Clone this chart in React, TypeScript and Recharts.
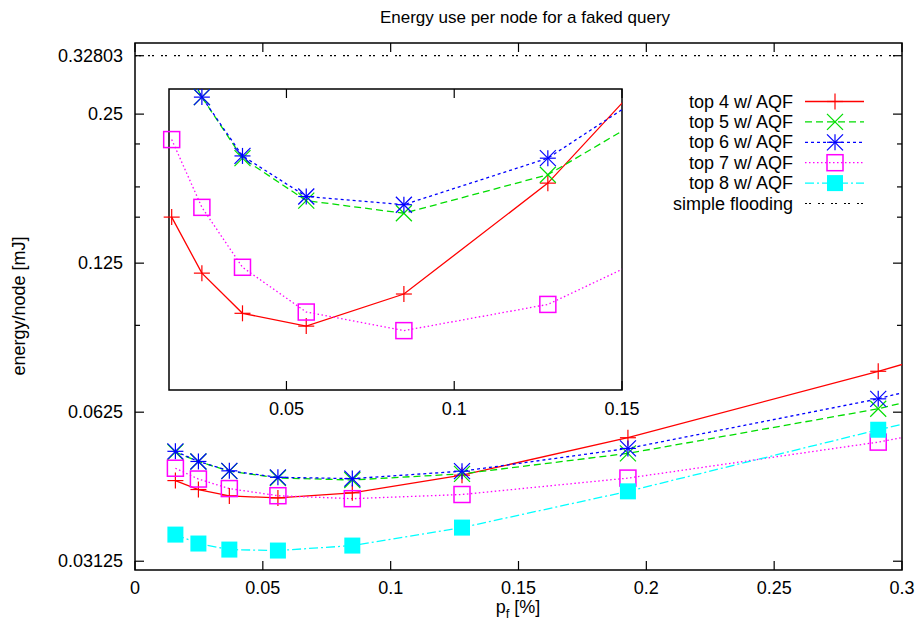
import React from 'react';
import { LineChart, Line, XAxis, YAxis, ReferenceLine, ReferenceArea } from 'recharts';

// p_f values (last one lies past the right edge, only its segment shows)
const pf = [0.0158, 0.0248, 0.0369, 0.0559, 0.085, 0.1279, 0.1928, 0.2907, 0.436];
const top4 = [0.04547, 0.04362, 0.04234, 0.04194, 0.04295, 0.04663, 0.0555, 0.0756, 0.1238];
const top5 = [0.0519, 0.0497, 0.0475, 0.04603, 0.0456, 0.04692, 0.0516, 0.0635, 0.0967];
const top6 = [0.0521, 0.0497, 0.04758, 0.04617, 0.04589, 0.0475, 0.0528, 0.0665, 0.1035];
const top7 = [0.04816, 0.0458, 0.04381, 0.04238, 0.0418, 0.04262, 0.046, 0.05438, 0.0757];
const top8 = [0.03537, 0.03393, 0.03299, 0.03284, 0.03361, 0.03654, 0.04325, 0.0576, 0.0851];
const flooding = 0.32803;

const mainXTicks = [0, 0.05, 0.1, 0.15, 0.2, 0.25, 0.3];
const mainYTicks = [0.03125, 0.0625, 0.125, 0.25, 0.32803];
const mainYMinor = [0.2176, 0.1782, 0.1548, 0.0936];
const insetXTicks = [0.05, 0.1, 0.15];

const MAIN_X = [0, 0.3];
const MAIN_Y = [0.03, 0.348];
const INSET_X = [0.015, 0.15];
const INSET_Y = [0.04, 0.05];

const W = 919;
const H = 629;
const PL = 135, PR = 902, PT = 43, PB = 570;
const IL = 169, IR = 622, IT = 89, IB = 390;
const FONT = '"Liberation Sans", Arial, Helvetica, sans-serif';
const FLOOD_DASH = '2 2 2 7';

const series = [
  { key: 'top4', name: 'top 4 w/ AQF', values: top4, color: '#ff0000', dash: undefined, marker: 'plus' },
  { key: 'top5', name: 'top 5 w/ AQF', values: top5, color: '#00dd00', dash: '7 4', marker: 'cross' },
  { key: 'top6', name: 'top 6 w/ AQF', values: top6, color: '#0000ff', dash: '3 3', marker: 'star' },
  { key: 'top7', name: 'top 7 w/ AQF', values: top7, color: '#ff00ff', dash: '1.5 2.5', marker: 'box' },
  { key: 'top8', name: 'top 8 w/ AQF', values: top8, color: '#00ffff', dash: '9 3 2 3', marker: 'fbox' },
];

const data = pf.map((x, i) => {
  const row: any = { x };
  series.forEach((s) => { row[s.key] = s.values[i]; });
  return row;
});

function Marker({ kind, cx, cy, color }: any) {
  const s = 8;
  const sw = 1.2;
  if (kind === 'plus') {
    return (
      <g stroke={color} strokeWidth={sw}>
        <line x1={cx - s} x2={cx + s} y1={cy} y2={cy} />
        <line x1={cx} x2={cx} y1={cy - s} y2={cy + s} />
      </g>
    );
  }
  if (kind === 'cross') {
    return (
      <g stroke={color} strokeWidth={sw}>
        <line x1={cx - s} x2={cx + s} y1={cy - s} y2={cy + s} />
        <line x1={cx - s} x2={cx + s} y1={cy + s} y2={cy - s} />
      </g>
    );
  }
  if (kind === 'star') {
    return (
      <g stroke={color} strokeWidth={sw}>
        <line x1={cx - s} x2={cx + s} y1={cy} y2={cy} />
        <line x1={cx} x2={cx} y1={cy - s} y2={cy + s} />
        <line x1={cx - s} x2={cx + s} y1={cy - s} y2={cy + s} />
        <line x1={cx - s} x2={cx + s} y1={cy + s} y2={cy - s} />
      </g>
    );
  }
  if (kind === 'box') {
    return <rect x={cx - s} y={cy - s} width={2 * s} height={2 * s} fill="none" stroke={color} strokeWidth={1.5} />;
  }
  return <rect x={cx - s} y={cy - s} width={2 * s} height={2 * s} fill={color} stroke="none" />;
}

const makeDot = (kind: string, color: string) => (props: any) => {
  const { cx, cy, index } = props;
  if (cx == null || cy == null) return <g key={index} />;
  return <Marker key={index} kind={kind} cx={cx} cy={cy} color={color} />;
};

function MainXTick(props: any) {
  const { x, payload } = props;
  return (
    <g>
      <line x1={x} x2={x} y1={PB} y2={PB - 9} stroke="#000" strokeWidth={1.2} />
      <line x1={x} x2={x} y1={PT} y2={PT + 9} stroke="#000" strokeWidth={1.2} />
      <text x={x} y={PB + 18} textAnchor="middle" dominantBaseline="central" fontFamily={FONT} fontSize={18} fill="#000">
        {String(payload.value)}
      </text>
    </g>
  );
}

function MainYTick(props: any) {
  const { y, payload } = props;
  const major = mainYTicks.includes(payload.value);
  const len = major ? 9 : 5;
  return (
    <g>
      <line x1={PL} x2={PL + len} y1={y} y2={y} stroke="#000" strokeWidth={1.2} />
      <line x1={PR} x2={PR - len} y1={y} y2={y} stroke="#000" strokeWidth={1.2} />
      {major && (
        <text x={PL - 12} y={y} textAnchor="end" dominantBaseline="central" fontFamily={FONT} fontSize={18} fill="#000">
          {String(payload.value)}
        </text>
      )}
    </g>
  );
}

function InsetXTick(props: any) {
  const { x, payload } = props;
  return (
    <g>
      <line x1={x} x2={x} y1={IB} y2={IB - 9} stroke="#000" strokeWidth={1.2} />
      <line x1={x} x2={x} y1={IT} y2={IT + 9} stroke="#000" strokeWidth={1.2} />
      <text x={x} y={IB + 19} textAnchor="middle" dominantBaseline="central" fontFamily={FONT} fontSize={18} fill="#000">
        {String(payload.value)}
      </text>
    </g>
  );
}

const inRange = (v: number, d: number[]) => v >= d[0] && v <= d[1];

function MainChart() {
  return (
    <LineChart width={W} height={H} data={data} margin={{ top: PT, right: W - PR, bottom: H - PB - 30, left: 0 }}>
      <XAxis
        dataKey="x"
        type="number"
        domain={MAIN_X}
        allowDataOverflow
        ticks={mainXTicks}
        interval={0}
        height={30}
        tickLine={false}
        axisLine={false}
        tick={<MainXTick />}
      />
      <YAxis
        type="number"
        scale="log"
        domain={MAIN_Y}
        allowDataOverflow
        ticks={[...mainYTicks, ...mainYMinor]}
        interval={0}
        width={PL}
        tickLine={false}
        axisLine={false}
        tick={<MainYTick />}
      />
      <ReferenceLine y={flooding} stroke="#000" strokeWidth={1.2} strokeDasharray={FLOOD_DASH} />
      {series.map((s) => (
        <Line
          key={s.key}
          dataKey={s.key}
          stroke={s.color}
          strokeWidth={1.3}
          strokeDasharray={s.dash}
          dot={makeDot(s.marker, s.color)}
          activeDot={false}
          isAnimationActive={false}
        />
      ))}
      <ReferenceArea x1={MAIN_X[0]} x2={MAIN_X[1]} y1={MAIN_Y[0]} y2={MAIN_Y[1]} fill="none" stroke="#000" strokeWidth={1.5} ifOverflow="visible" />
    </LineChart>
  );
}

function InsetChart() {
  const insetSeries = series.slice(0, 4);
  return (
    <LineChart width={W} height={H} data={data} margin={{ top: IT, right: W - IR, bottom: H - IB - 30, left: IL }}>
      <XAxis
        xAxisId="c"
        dataKey="x"
        type="number"
        domain={INSET_X}
        allowDataOverflow
        ticks={insetXTicks}
        interval={0}
        height={30}
        tickLine={false}
        axisLine={false}
        tick={<InsetXTick />}
      />
      <XAxis xAxisId="f" dataKey="x" type="number" domain={INSET_X} hide />
      <YAxis yAxisId="c" type="number" scale="log" domain={INSET_Y} allowDataOverflow hide />
      <YAxis yAxisId="f" type="number" scale="log" domain={INSET_Y} hide />
      {insetSeries.map((s) => (
        <Line
          key={s.key}
          xAxisId="c"
          yAxisId="c"
          dataKey={s.key}
          stroke={s.color}
          strokeWidth={1.3}
          strokeDasharray={s.dash}
          dot={false}
          activeDot={false}
          isAnimationActive={false}
        />
      ))}
      {insetSeries.map((s) => (
        <Line
          key={s.key + '-pts'}
          xAxisId="f"
          yAxisId="f"
          data={pf
            .map((x, i) => ({ x, y: s.values[i] }))
            .filter((p) => inRange(p.x, INSET_X) && inRange(p.y, INSET_Y))}
          dataKey="y"
          stroke="none"
          dot={makeDot(s.marker, s.color)}
          activeDot={false}
          isAnimationActive={false}
        />
      ))}
      <ReferenceArea xAxisId="c" yAxisId="c" x1={INSET_X[0]} x2={INSET_X[1]} y1={INSET_Y[0]} y2={INSET_Y[1]} fill="none" stroke="#000" strokeWidth={1.5} ifOverflow="visible" />
    </LineChart>
  );
}

function Annotations() {
  const rowY = 101.5;
  const step = 20.4;
  return (
    <svg width={W} height={H} style={{ position: 'absolute', left: 0, top: 0, pointerEvents: 'none' }} fontFamily={FONT} fontSize={18}>
      <text x={525} y={17} textAnchor="middle" dominantBaseline="central" fontSize={17} fill="#000">
        Energy use per node for a faked query
      </text>
      <text x={518} y={613} textAnchor="middle" fill="#000">
        <tspan>p</tspan>
        <tspan fontSize={13} dy={5}>f</tspan>
        <tspan dy={-5}> [%]</tspan>
      </text>
      <text transform="translate(19,306) rotate(-90)" textAnchor="middle" dominantBaseline="central" fill="#000">
        energy/node [mJ]
      </text>
      {series.map((s, i) => {
        const y = rowY + i * step;
        return (
          <g key={s.key}>
            <text x={793} y={y} textAnchor="end" dominantBaseline="central" fill="#000">{s.name}</text>
            <line x1={805} x2={864} y1={y} y2={y} stroke={s.color} strokeWidth={1.3} strokeDasharray={s.dash} />
            <Marker kind={s.marker} cx={835} cy={y} color={s.color} />
          </g>
        );
      })}
      <text x={793} y={rowY + 5 * step} textAnchor="end" dominantBaseline="central" fill="#000">simple flooding</text>
      <line x1={805} x2={864} y1={rowY + 5 * step} y2={rowY + 5 * step} stroke="#000" strokeWidth={1.2} strokeDasharray={FLOOD_DASH} />
    </svg>
  );
}

export default function App() {
  return (
    <div style={{ position: 'relative', width: W, height: H, background: '#fff' }}>
      <style>{'body{margin:0}'}</style>
      <div style={{ position: 'absolute', left: 0, top: 0 }}>
        <MainChart />
      </div>
      <div style={{ position: 'absolute', left: 0, top: 0 }}>
        <InsetChart />
      </div>
      <Annotations />
    </div>
  );
}
